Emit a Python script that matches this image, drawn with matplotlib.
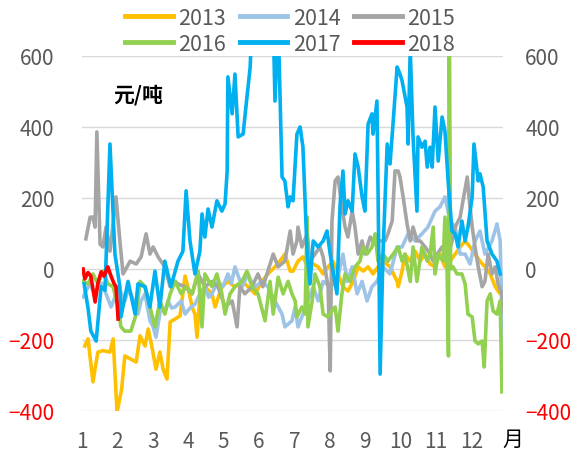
import matplotlib
matplotlib.use("Agg")
import matplotlib.pyplot as plt

plt.rcParams['font.family'] = ['Noto Sans CJK SC', 'DejaVu Sans']

# x: 月份(小数), y: 元/吨
x_2013 = [1.08, 1.17, 1.31, 1.37, 1.45, 1.59, 1.79, 1.88, 1.99, 2.12, 2.21, 2.36, 2.53, 2.64, 2.78, 2.87,
          2.97, 3.09, 3.20, 3.29, 3.40, 3.49, 3.63, 3.77, 3.91, 3.99, 4.11, 4.19, 4.25, 4.33, 4.47, 4.67,
          4.76, 4.95, 5.12, 5.32, 5.52, 5.69, 5.89, 6.08, 6.25, 6.45, 6.59, 6.73, 6.88, 6.96, 7.10, 7.24,
          7.38, 7.53, 7.67, 7.81, 7.95, 8.09, 8.23, 8.37, 8.51, 8.66, 8.80, 8.94, 9.08, 9.22, 9.36, 9.50,
          9.70, 9.90, 9.93, 10.04, 10.12, 10.27, 10.41, 10.55, 10.69, 10.83, 10.97, 11.11, 11.25, 11.40,
          11.54, 11.68, 11.82, 11.96, 12.10, 12.24, 12.38, 12.53, 12.67, 12.81, 12.89]
y_2013 = [-217, -197, -318, -280, -234, -230, -234, -197, -403, -338, -245, -253, -262, -188, -217, -169,
          -217, -282, -234, -282, -310, -149, -141, -132, -20, -50, -107, -127, -192, -70, -50, -70,
          -107, -50, -35, -50, -35, -50, -70, -35, -14, 6, 22, 42, -6, -6, 22, 34,
          6, 14, 6, -14, 6, 22, -14, -50, -62, -35, 6, -6, 6, -14, 6, 22,
          6, -35, -50, -6, 42, 22, 50, 22, 42, 14, 6, 42, 6, 22,
          42, 62, 79, 62, 42, 22, 6, -14, -50, -70, -50]

x_2014 = [1.03, 1.12, 1.23, 1.35, 1.45, 1.56, 1.68, 1.82, 1.93, 2.02, 2.12, 2.21, 2.30, 2.38, 2.50, 2.58,
          2.67, 2.78, 2.92, 3.00, 3.09, 3.23, 3.34, 3.43, 3.53, 3.63, 3.80, 3.91, 4.05, 4.19, 4.33, 4.47,
          4.58, 4.67, 4.84, 4.98, 5.12, 5.22, 5.32, 5.45, 5.52, 5.69, 5.80, 5.89, 6.08, 6.25, 6.45, 6.65,
          6.73, 6.93, 7.02, 7.10, 7.24, 7.38, 7.53, 7.67, 7.81, 8.01, 8.20, 8.37, 8.49, 8.63, 8.77, 8.91,
          9.05, 9.19, 9.33, 9.50, 9.70, 9.90, 10.04, 10.21, 10.41, 10.60, 10.77, 10.97, 11.11, 11.25,
          11.40, 11.54, 11.68, 11.82, 11.96, 12.10, 12.24, 12.38, 12.58, 12.72, 12.81, 12.89]
y_2014 = [-79, -60, -42, -70, -50, -40, -70, -107, -80, -50, -70, -90, -60, -70, -100, -127,
          -90, -70, -146, -160, -192, -107, -120, -90, -110, -107, -90, -127, -110, -99, -70, -50,
          -80, -70, -35, -50, -14, -40, 6, -30, -50, -14, -40, -50, -35, -50, -90, -127,
          -163, -146, -107, -163, -127, -90, -50, -90, -35, -50, -35, 42, -35, 6, -70, -35,
          -90, -50, -35, 6, -14, 62, 62, 99, 79, 99, 118, 163, 175, 203,
          135, 118, 42, 42, 14, 79, 107, 42, 79, 127, 79, -268]

x_2015 = [1.11, 1.23, 1.31, 1.37, 1.42, 1.51, 1.59, 1.68, 1.79, 1.96, 2.07, 2.16, 2.36, 2.53, 2.67, 2.81,
          2.92, 3.01, 3.15, 3.34, 3.49, 3.63, 3.71, 3.91, 4.11, 4.28, 4.47, 4.67, 4.84, 5.04, 5.24, 5.38,
          5.46, 5.60, 5.80, 5.97, 6.11, 6.25, 6.40, 6.54, 6.73, 6.88, 6.96, 7.07, 7.10, 7.21, 7.36, 7.44,
          7.58, 7.72, 7.81, 7.95, 8.01, 8.06, 8.15, 8.23, 8.34, 8.43, 8.51, 8.63, 8.71, 8.80, 8.91, 8.99,
          9.14, 9.28, 9.42, 9.56, 9.64, 9.76, 9.84, 9.93, 9.98, 10.07, 10.18, 10.27, 10.35, 10.46, 10.55,
          10.69, 10.83, 10.92, 11.03, 11.17, 11.31, 11.45, 11.54, 11.68, 11.76, 11.88, 11.93, 12.02, 12.10,
          12.19, 12.30, 12.38, 12.47, 12.58, 12.67, 12.75, 12.86, 12.89]
y_2015 = [85, 146, 146, 118, 386, 70, 62, 118, 50, 203, 79, -14, 22, 14, 34, 99,
          42, 62, 34, 6, -50, -35, -42, -50, -70, -14, -50, -35, -50, -107, -90, -163,
          -50, -70, -50, -14, -50, -6, 42, 6, 22, 107, 42, 79, 118, 62, 99, 22,
          42, 62, 34, -50, -287, 135, 248, 259, 175, 118, 90, 163, 118, 42, 79, 42,
          90, 70, 79, 79, 99, 135, 276, 276, 259, 203, 127, 79, 118, 79, 79,
          62, 42, 22, 42, 62, 22, 79, 118, 146, 192, 259, 203, 118, 62,
          6, -50, -35, 42, -14, 6, -42, -70, -118]

x_2016 = [1.03, 1.17, 1.31, 1.45, 1.59, 1.73, 1.88, 2.02, 2.10, 2.21, 2.38, 2.53, 2.64, 2.78, 2.92, 3.06,
          3.20, 3.34, 3.49, 3.63, 3.80, 3.94, 4.11, 4.28, 4.39, 4.47, 4.67, 4.81, 4.95, 5.04, 5.18, 5.32,
          5.52, 5.66, 5.80, 5.97, 6.17, 6.31, 6.40, 6.54, 6.68, 6.82, 6.93, 7.02, 7.07, 7.21, 7.30, 7.36,
          7.38, 7.50, 7.58, 7.72, 7.81, 7.95, 8.06, 8.15, 8.23, 8.34, 8.43, 8.57, 8.71, 8.85, 8.94, 9.05,
          9.19, 9.28, 9.36, 9.50, 9.64, 9.79, 9.93, 10.04, 10.12, 10.27, 10.35, 10.46, 10.60, 10.75, 10.83,
          10.92, 10.97, 11.06, 11.20, 11.25, 11.31, 11.35, 11.37, 11.41, 11.48, 11.59, 11.73, 11.82, 11.90,
          12.02, 12.10, 12.19, 12.30, 12.36, 12.44, 12.53, 12.61, 12.72, 12.81, 12.86]
y_2016 = [-35, -42, -14, -42, -6, -42, -50, -107, -163, -175, -175, -127, -35, -50, -107, -163,
          -90, -127, -70, -35, -70, -50, -70, -6, -163, -14, -50, -14, -70, -127, -70, -50,
          -35, -6, -50, -70, -146, -35, -127, -23, -70, -35, -70, -90, -135, -107, -127, 146,
          -163, -90, -14, -50, -127, -135, -118, -107, -175, -70, -14, -35, 6, 22, 62, 42,
          62, 99, 22, 42, 22, 42, 62, 22, 42, -35, 62, -35, 62, 22, 42,
          118, -14, 42, 22, 146, 6, -245, 800, 0, 6, -14, -14, -42, -127,
          -135, -203, -211, -203, -276, -90, -70, -118, -127, -90, -346]

x_2017 = [1.06, 1.17, 1.25, 1.40, 1.54, 1.65, 1.79, 1.93, 2.07, 2.10, 2.30, 2.50, 2.58, 2.78, 2.92, 3.06,
          3.20, 3.34, 3.51, 3.71, 3.85, 3.94, 4.05, 4.19, 4.33, 4.39, 4.47, 4.56, 4.67, 4.81, 4.95, 5.04,
          5.10, 5.12, 5.24, 5.32, 5.41, 5.55, 5.66, 5.75, 5.80, 6.40, 6.45, 6.54, 6.65, 6.73, 6.82, 6.88,
          6.96, 7.07, 7.16, 7.24, 7.36, 7.44, 7.53, 7.67, 7.81, 7.92, 8.01, 8.09, 8.20, 8.29, 8.37, 8.43,
          8.51, 8.63, 8.71, 8.80, 8.91, 8.99, 9.08, 9.19, 9.22, 9.33, 9.36, 9.42, 9.50, 9.62, 9.70, 9.79,
          9.90, 9.98, 10.04, 10.18, 10.21, 10.27, 10.35, 10.46, 10.49, 10.60, 10.69, 10.75, 10.83, 10.89,
          10.97, 11.06, 11.17, 11.25, 11.34, 11.45, 11.54, 11.62, 11.73, 11.82, 11.90, 12.02, 12.07, 12.19,
          12.24, 12.33, 12.44, 12.58, 12.72, 12.81]
y_2017 = [-42, -110, -175, -203, -50, -60, 352, 42, -50, -135, -35, -127, -42, -50, -107, -6,
          -107, 22, -50, 22, 50, 220, 79, -14, 50, 155, 90, 169, 118, 192, 163, 183,
          276, 541, 437, 549, 372, 380, 485, 569, 700, 700, 473, 700, 259, 248, 175, 203,
          192, 380, 400, 343, 42, -42, 79, 62, 79, 107, 42, -6, -70, 183, 276, 155,
          192, 163, 324, 287, 203, 163, 408, 437, 380, 473, 231, -296, 42, 352, 296, 417,
          569, 549, 530, 456, 352, 620, 372, 163, 372, 343, 360, 287, 343, 287,
          456, 304, 428, 389, 248, 107, 99, 62, 135, 79, 118, 203, 352, 248,
          268, 231, 79, 42, 22, -14]

x_2018 = [1.03, 1.08, 1.17, 1.25, 1.37, 1.45, 1.54, 1.62, 1.73, 1.82, 1.90, 1.96, 2.02]
y_2018 = [0, -28, -10, -20, -93, -40, -8, -20, 6, -20, -40, -50, -141]

years = ["2013", "2014", "2015", "2016", "2017", "2018"]
colors = ["#FFC000", "#9DC3E6", "#A5A5A5", "#92D050", "#00B0F0", "#FF0000"]
months = list(range(1, 13))
y_ticks = [-400, -200, 0, 200, 400, 600]

fig = plt.figure(figsize=(5.71, 4.52), dpi=100)
ax = fig.add_axes([0.1436, 0.0885, 0.7373, 0.7855])

series = [(x_2013, y_2013), (x_2014, y_2014), (x_2015, y_2015),
          (x_2016, y_2016), (x_2017, y_2017), (x_2018, y_2018)]
handles = []
for (xs, ys), name, c in zip(series, years, colors):
    h, = ax.plot(xs, ys, color=c, lw=2.6, label=name, solid_joinstyle="round")
    handles.append(h)

ax.set_xlim(1, 12.89)
ax.set_ylim(-400, 600)
ax.set_yticks(y_ticks)
ax.set_xticks(months)
ax.set_xticklabels([str(m) for m in months])
ax.grid(axis="y", color="#D9D9D9", lw=1)
ax.set_axisbelow(True)
for s in ax.spines.values():
    s.set_visible(False)
ax.tick_params(axis="both", length=0, labelsize=15, colors="#595959")
ax.tick_params(axis="y", pad=20)
ax.tick_params(axis="x", pad=14)

ax2 = ax.twinx()
ax2.set_ylim(-400, 600)
ax2.set_yticks(y_ticks)
for s in ax2.spines.values():
    s.set_visible(False)
ax2.tick_params(axis="y", length=0, labelsize=15, colors="#595959", pad=16)

for a in (ax, ax2):
    for lab, v in zip(a.get_yticklabels(), y_ticks):
        lab.set_color("#FF0000" if v < 0 else "#595959")

fig.text(0.242, 0.79, "元/吨", fontsize=15, fontweight="bold", ha="center", va="center")
fig.text(0.898, 0.026, "月", fontsize=15, ha="center", va="center")

# 图例按行排列: 2013 2014 2015 / 2016 2017 2018
order = [0, 3, 1, 4, 2, 5]
leg = fig.legend([handles[i] for i in order], [years[i] for i in order],
                 loc="center", bbox_to_anchor=(0.508, 0.93), ncol=3, frameon=False,
                 fontsize=15.5, handlelength=2.2, handletextpad=0.25, columnspacing=0.65,
                 labelspacing=0.18, borderpad=0)
for t in leg.get_texts():
    t.set_color("#595959")
for h in leg.get_lines():
    h.set_linewidth(3.5)

fig.savefig("out.png", dpi=100)
